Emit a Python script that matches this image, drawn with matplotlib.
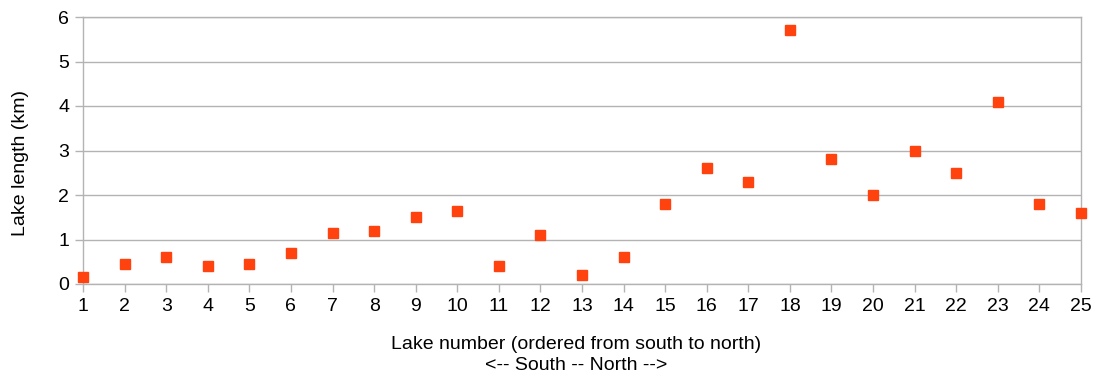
import matplotlib
matplotlib.use("Agg")
import matplotlib.pyplot as plt

plt.rcParams['font.family'] = ['Liberation Sans', 'DejaVu Sans']

lake_number = list(range(1, 26))
lake_length_km = [0.15, 0.45, 0.6, 0.4, 0.45, 0.7, 1.15, 1.2, 1.5, 1.65,
                  0.4, 1.1, 0.2, 0.6, 1.8, 2.6, 2.3, 5.7, 2.8, 2.0,
                  3.0, 2.5, 4.1, 1.8, 1.6]
y_ticks = [0, 1, 2, 3, 4, 5, 6]

fig = plt.figure(figsize=(10.99, 3.81), dpi=100)
ax = fig.add_axes([83 / 1099, 1 - 284 / 381, (1081 - 83) / 1099, (284 - 17) / 381])

grid_col = '#b3b3b3'
ax.set_xlim(1, 25)
ax.set_ylim(0, 6)
ax.set_yticks(y_ticks)
ax.set_xticks(lake_number)
ax.yaxis.grid(True, color=grid_col, linewidth=1.0)
ax.set_axisbelow(True)
for s in ax.spines.values():
    s.set_color(grid_col)
    s.set_linewidth(1.0)
ax.tick_params(axis='both', colors=grid_col, labelcolor='black', labelsize=14,
               length=6, width=1.0, direction='out')
ax.tick_params(axis='x', pad=4)
ax.tick_params(axis='y', pad=4)

ax.plot(lake_number, lake_length_km, linestyle='none', marker='s',
        markersize=7.5, color='#ff420e', clip_on=False, zorder=3)

ax.set_xlabel('Lake number (ordered from south to north)\n<-- South -- North -->',
              fontsize=14, linespacing=1.3)
ax.xaxis.set_label_coords((576 - 83) / (1081 - 83), (284 - 336) / (284 - 17))
ax.set_ylabel('Lake length (km)', fontsize=14)
ax.yaxis.set_label_coords((29 - 83) / (1081 - 83), (284 - 163) / (284 - 17))

fig.savefig('out.png', dpi=100, facecolor='white')
